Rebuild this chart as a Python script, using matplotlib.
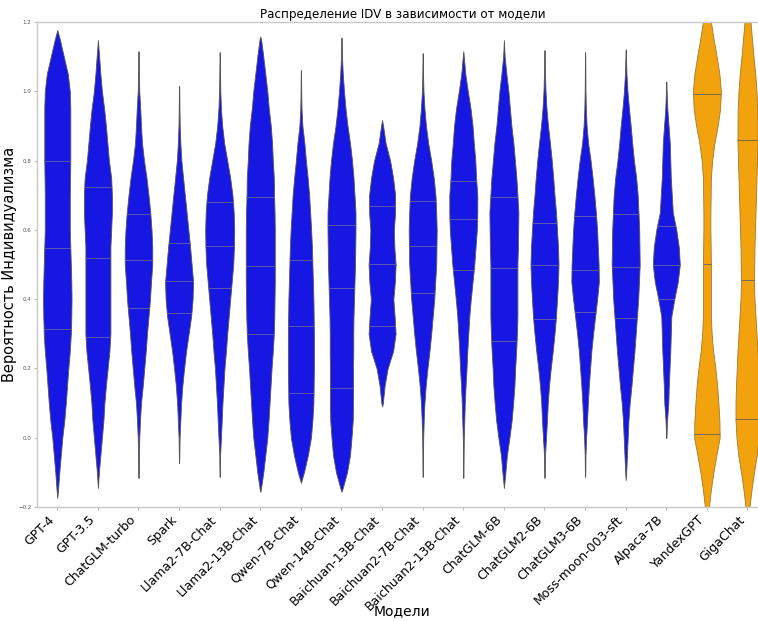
import numpy as np
import matplotlib
matplotlib.use("Agg")
import matplotlib.pyplot as plt

models = ["GPT-4", "GPT-3.5", "ChatGLM-turbo", "Spark", "Llama2-7B-Chat",
          "Llama2-13B-Chat", "Qwen-7B-Chat", "Qwen-14B-Chat", "Baichuan-13B-Chat",
          "Baichuan2-7B-Chat", "Baichuan2-13B-Chat", "ChatGLM-6B", "ChatGLM2-6B",
          "ChatGLM3-6B", "Moss-moon-003-sft", "Alpaca-7B", "YandexGPT", "GigaChat"]

# density levels (probability values) at which violin widths were read
y_grid = [-0.25, -0.20, -0.15, -0.10, -0.05, 0.00, 0.05, 0.10, 0.15, 0.20,
          0.25, 0.30, 0.35, 0.40, 0.45, 0.50, 0.55, 0.60, 0.65, 0.70,
          0.75, 0.80, 0.85, 0.90, 0.95, 1.00, 1.05, 1.10, 1.15, 1.20, 1.25]

# relative violin widths at each level of y_grid
w_gpt4 = [0, 0, 1.5, 4, 7, 10, 14, 17, 19.5, 22, 25, 27, 28, 28.5, 28, 27, 26, 25, 25, 25,
          25.5, 26, 26, 26, 26, 25, 21, 13, 5, 0, 0]
w_gpt35 = [0, 0, 0, 2, 5, 8, 11, 13, 16, 19.5, 23, 25, 25, 25, 25, 25, 25, 26.5, 28, 28,
           26.5, 22, 19, 16, 12.5, 8, 5, 2.5, 0, 0, 0]
w_chatglm_turbo = [0, 0, 0, 0.6, 0.8, 1.5, 3, 5, 8.5, 11.5, 14.5, 17, 20, 23, 25, 27.5, 27.5, 26, 23.5, 20,
                   16, 11, 7, 5, 3.5, 1.5, 0.8, 0.5, 0, 0, 0]
w_spark = [0, 0, 0, 0, 0.5, 1, 2.5, 4, 6.5, 10, 14, 19, 24, 27, 28, 25, 22, 18.5, 15, 11.5,
           8, 4.5, 2.5, 1.2, 0.7, 0.4, 0, 0, 0, 0, 0]
w_llama7 = [0, 0, 0, 0.4, 0.8, 2.5, 4, 5.5, 7.5, 9.5, 12.5, 15, 18, 21, 24, 27, 28.5, 29, 28, 25.5,
            21, 15, 9, 5, 2.5, 1.2, 0.7, 0.3, 0, 0, 0]
w_llama13 = [0, 0, 1, 6, 10, 14, 16.5, 18.5, 20.5, 22.5, 25, 27, 28, 28.5, 29, 29, 29, 29, 28.5, 27.5,
             27, 25, 23.5, 21, 17, 14, 10, 6, 1.5, 0, 0]
w_qwen7 = [0, 0, 0, 6, 14, 20, 23, 25, 25.5, 26, 26, 26, 25.5, 25, 24, 23, 22, 20.5, 18.5, 16.5,
           13.5, 10, 7, 3, 1.2, 0.6, 0.3, 0, 0, 0, 0]
w_qwen14 = [0, 0, 1.5, 11, 17, 20, 22.5, 23, 23, 23, 23.5, 23.5, 24, 25, 26, 27, 27.5, 28, 28, 26,
            24, 21, 17, 12, 8, 5, 2.5, 1, 0.3, 0, 0]
w_baichuan13 = [0, 0, 0, 0, 0, 0, 0, 1.5, 5, 11, 22, 27, 25, 22.5, 25.5, 27, 24.5, 23.5, 26, 26,
                22, 16, 7, 2, 0, 0, 0, 0, 0, 0, 0]
w_baichuan2_7 = [0, 0, 0, 0.4, 0.6, 1, 2, 3.5, 6, 9.5, 13.5, 17, 20, 23, 25, 27, 27.5, 28, 27, 25.5,
                 22, 17, 11, 6.5, 3.5, 1.5, 0.7, 0.3, 0, 0, 0]
w_baichuan2_13 = [0, 0, 0, 0.4, 0.6, 1, 2, 3, 4.5, 6.5, 8, 10, 12, 15, 18.5, 22, 24.5, 27, 28, 28,
                  25.5, 24, 21, 18.5, 14.5, 9, 4, 1, 0, 0, 0]
w_chatglm6 = [0, 0, 0, 3, 6, 11, 15.5, 18.5, 21, 22.5, 24.5, 26, 27, 27, 27, 27, 28, 28.5, 29, 27,
              25, 22, 19, 15, 12, 9, 5, 1.5, 0, 0, 0]
w_chatglm2 = [0, 0, 0, 0.4, 1, 3, 5, 6.5, 9, 12.5, 16.5, 20, 23, 25, 27, 28, 27, 25, 23, 20,
              17.5, 14.5, 11, 7, 4, 2, 1, 0.4, 0, 0, 0]
w_chatglm3 = [0, 0, 0, 0.4, 0.8, 2, 4, 5.5, 7.5, 10, 12.5, 16, 20, 24, 27.5, 27, 25.5, 24, 21.5, 18.5,
              15, 11, 6, 3, 1.5, 0.8, 0.5, 0.3, 0, 0, 0]
w_moss = [0, 0, 0, 1, 2.5, 4, 5.5, 8, 11.5, 14.5, 17.5, 20, 22.5, 25, 26.5, 28, 27.5, 27, 25.5, 24,
          21, 16.5, 13, 10, 6.5, 3.5, 1.5, 0.5, 0, 0, 0]
w_alpaca = [0, 0, 0, 0, 0, 0.3, 1.5, 4, 5, 6.5, 8, 9, 10, 16, 23, 27, 25, 20, 13, 11,
            9, 8, 7, 4.5, 2, 0.7, 0, 0, 0, 0, 0]
w_yandex = [1, 4, 8, 13, 19, 25.5, 25, 23, 20.5, 17, 12.5, 9.5, 8, 8, 8, 8, 7.5, 7, 7, 7.5,
            8, 10.5, 15, 21.5, 26.5, 28, 25, 19.5, 13.5, 8, 2]
w_giga = [1, 4, 8, 13, 18.5, 22, 24, 24, 23, 21.5, 20, 18, 16, 14, 13, 13.5, 14, 15, 16, 17,
          18, 19, 20, 20, 19.5, 18, 15.5, 12, 9, 6, 2]

widths = [w_gpt4, w_gpt35, w_chatglm_turbo, w_spark, w_llama7, w_llama13, w_qwen7, w_qwen14,
          w_baichuan13, w_baichuan2_7, w_baichuan2_13, w_chatglm6, w_chatglm2, w_chatglm3,
          w_moss, w_alpaca, w_yandex, w_giga]

tip_low = [-0.174, -0.145, -0.116, -0.073, -0.113, -0.156, -0.130, -0.156, 0.090,
           -0.113, -0.116, -0.145, -0.116, -0.113, -0.122, -0.001, -0.26, -0.26]
tip_high = [1.177, 1.148, 1.116, 1.016, 1.113, 1.158, 1.061, 1.155, 0.917,
            1.110, 1.116, 1.148, 1.119, 1.113, 1.121, 1.028, 1.26, 1.26]

q1 = [0.314, 0.291, 0.374, 0.361, 0.432, 0.299, 0.129, 0.143, 0.323,
      0.419, 0.484, 0.280, 0.342, 0.364, 0.345, 0.400, 0.010, 0.053]
q2 = [0.548, 0.519, 0.513, 0.453, 0.553, 0.497, 0.323, 0.432, 0.501,
      0.553, 0.631, 0.490, 0.499, 0.484, 0.494, 0.500, 0.501, 0.455]
q3 = [0.800, 0.724, 0.646, 0.562, 0.681, 0.695, 0.513, 0.614, 0.669,
      0.684, 0.742, 0.695, 0.621, 0.640, 0.646, 0.610, 0.991, 0.860]

highlight = ["YandexGPT", "GigaChat"]

BLUE = "#1717e3"
ORANGE = "#f2a20c"
SCALE = 40.6  # width units per category

fig = plt.figure(figsize=(7.58, 6.21), dpi=100)
ax = fig.add_axes([37 / 758, 114 / 621, 730.8 / 758, 485 / 621])

stats = []
for i, m in enumerate(models):
    yg = np.array(y_grid)
    wg = np.array(widths[i], dtype=float)
    inside = (yg > tip_low[i]) & (yg < tip_high[i])
    coords = np.concatenate([[tip_low[i]], yg[inside], [tip_high[i]]])
    vals = np.concatenate([[0.0], wg[inside], [0.0]])
    stats.append(dict(coords=coords, vals=vals, mean=q2[i], median=q2[i],
                      min=tip_low[i], max=tip_high[i]))

positions = list(range(len(models)))
vw = [max(w) / SCALE for w in widths]
parts = ax.violin(stats, positions=positions, widths=vw, showmeans=False,
                  showextrema=False, showmedians=False)
for i, body in enumerate(parts["bodies"]):
    c = ORANGE if models[i] in highlight else BLUE
    body.set_facecolor(c)
    body.set_edgecolor("#555555" if c == BLUE else "#a07a30")
    body.set_linewidth(0.6)
    body.set_alpha(1)

# quartile lines spanning the violin at that level
for i in range(len(models)):
    st = stats[i]
    for q in (q1[i], q2[i], q3[i]):
        hw = np.interp(q, st["coords"], st["vals"]) / SCALE / 2
        col = "#7a6a50" if models[i] in highlight else "#5a5ab0"
        ax.plot([i - hw, i + hw], [q, q], color=col, lw=0.7, solid_capstyle="butt")

ax.set_xlim(-0.5, 17.5)
ax.set_ylim(-0.2, 1.2)
ax.set_yticks([-0.2, 0.0, 0.2, 0.4, 0.6, 0.8, 1.0, 1.2])
ax.set_xticks(positions)
ax.set_xticklabels(models, rotation=45, ha="right", fontsize=9.0)
ax.tick_params(axis="y", labelsize=4, length=2, color="#bbbbbb", labelcolor="#555555", pad=2)
ax.tick_params(axis="x", length=2.5, color="#bbbbbb", pad=2)
for s in ax.spines.values():
    s.set_color("#c8c8c8")
    s.set_linewidth(1.0)

ax.set_title("Распределение IDV в зависимости от модели", fontsize=8.6, pad=3)
ax.set_ylabel("Вероятность Индивидуализма", fontsize=10.5, labelpad=1)
ax.set_xlabel("Модели", fontsize=10)
ax.xaxis.set_label_coords((402 - 37) / 730.8, (507 - 604) / 485)

fig.savefig("out.png", dpi=100)
